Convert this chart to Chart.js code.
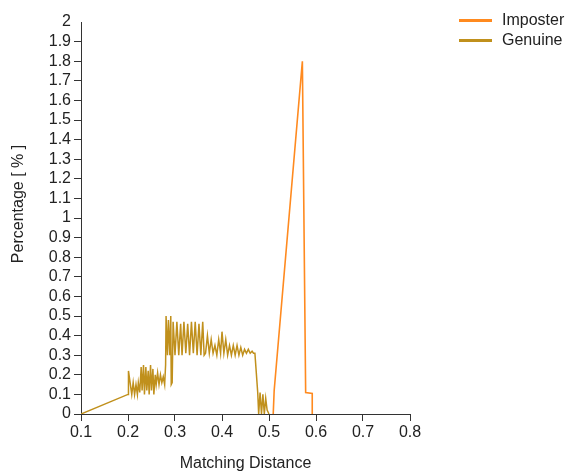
<!DOCTYPE html>
<html>
<head>
<meta charset="utf-8">
<script src="https://cdn.jsdelivr.net/npm/chart.js@4/dist/chart.umd.min.js"></script>
<style>
    body { margin: 0; background: #fff; }
    #wrap { position: relative; width: 569px; height: 472px; }
    .legend { position: absolute; left: 459px; font: 16px "Liberation Sans", Arial, sans-serif; color: #222; }
    .legend div { position: relative; height: 20px; line-height: 20px; padding-left: 43px; }
    .legend span { position: absolute; left: 0; top: 9px; width: 33px; height: 3px; }
</style>
</head>
<body>
<div id="wrap">
    <canvas id="chart" width="569" height="472"></canvas>
    <div class="legend" style="top: 10px;">
        <div><span style="background:#ff8a1f"></span>Imposter</div>
        <div><span style="background:#c0901c"></span>Genuine</div>
    </div>
</div>
<script>
// DATOS
const seriesNames = ['Imposter', 'Genuine'];

const imposterX = [0.509, 0.511, 0.571, 0.578, 0.592, 0.592];
const imposterY = [0, 0.12, 1.8, 0.11, 0.105, 0];

const genuineX = [
    0.1, 0.2, 0.201, 0.208, 0.211, 0.214, 0.217, 0.22, 0.222, 0.225,
    0.228, 0.23, 0.233, 0.235, 0.238, 0.24, 0.243, 0.245, 0.248, 0.25, 0.253, 0.255, 0.258, 0.26,
    0.263, 0.266, 0.269, 0.272, 0.275, 0.278, 0.28, 0.281, 0.284, 0.286, 0.289, 0.291, 0.292, 0.294, 0.296,
    0.3, 0.304, 0.308, 0.312, 0.315, 0.319, 0.323, 0.327, 0.331, 0.335, 0.339, 0.343, 0.347, 0.351, 0.355, 0.359, 0.362, 0.365,
    0.369, 0.373, 0.377, 0.381, 0.385, 0.389, 0.393, 0.397, 0.4, 0.404, 0.408, 0.412,
    0.416, 0.42, 0.424, 0.428, 0.432, 0.436, 0.44, 0.444, 0.448, 0.452, 0.456, 0.46, 0.464, 0.467, 0.47,
    0.476, 0.478, 0.481, 0.484, 0.487, 0.49, 0.493, 0.496, 0.5
];
const genuineY = [
    0, 0.1, 0.22, 0.1, 0.16, 0.1, 0.15, 0.1, 0.16, 0.11,
    0.24, 0.12, 0.25, 0.1, 0.24, 0.12, 0.22, 0.1, 0.25, 0.12, 0.23, 0.1, 0.2, 0.15,
    0.21, 0.15, 0.2, 0.16, 0.19, 0.15, 0.25, 0.5, 0.3, 0.48, 0.3, 0.5, 0.15, 0.16, 0.47,
    0.3, 0.47, 0.3, 0.46, 0.3, 0.47, 0.31, 0.46, 0.3, 0.47, 0.31, 0.47, 0.3, 0.46, 0.3, 0.47, 0.3, 0.31,
    0.4, 0.31, 0.38, 0.31, 0.35, 0.3, 0.38, 0.31, 0.42, 0.31, 0.38, 0.3,
    0.35, 0.3, 0.35, 0.3, 0.35, 0.3, 0.34, 0.3, 0.33, 0.31, 0.33, 0.31, 0.32, 0.31, 0.31,
    0.11, 0, 0.11, 0, 0.1, 0, 0.08, 0.02, 0
];

const xTicks = [0.1, 0.2, 0.3, 0.4, 0.5, 0.6, 0.7, 0.8];
const yMin = 0, yMax = 2, yStep = 0.1;
const yTitle = 'Percentage [ % ]';

const FONT = '"Liberation Sans", Arial, sans-serif';
const TXT = '#222';
const AXIS = '#333';

function toPoints(xs, ys) {
    return xs.map((x, i) => ({ x: x, y: ys[i] }));
}

function fmt(v) {
    return String(Math.round(v * 10) / 10);
}

// titulo del eje Y, un poco por encima del centro como en el original
const yTitlePlugin = {
    id: 'yTitle',
    afterDraw(chart) {
        const ctx = chart.ctx;
        ctx.save();
        ctx.translate(19, 204);
        ctx.rotate(-Math.PI / 2);
        ctx.font = '16px ' + FONT;
        ctx.fillStyle = TXT;
        ctx.textAlign = 'center';
        ctx.textBaseline = 'middle';
        ctx.fillText(yTitle, 0, 0);
        ctx.restore();
    }
};

new Chart(document.getElementById('chart'), {
    type: 'scatter',
    data: {
        datasets: [{
            label: seriesNames[0],
            data: toPoints(imposterX, imposterY),
            showLine: true,
            borderColor: '#ff8a1f',
            borderWidth: 1.6,
            pointRadius: 0,
            tension: 0
        }, {
            label: seriesNames[1],
            data: toPoints(genuineX, genuineY),
            showLine: true,
            borderColor: '#c0901c',
            borderWidth: 1.5,
            pointRadius: 0,
            tension: 0
        }]
    },
    options: {
        responsive: false,
        devicePixelRatio: 1,
        animation: false,
        layout: { padding: { left: 0, top: 22, right: 159, bottom: 0 } },
        plugins: {
            legend: { display: false },
            tooltip: { enabled: false }
        },
        scales: {
            x: {
                type: 'linear',
                min: xTicks[0],
                max: xTicks[xTicks.length - 1],
                afterFit: s => { s.height = 58; },
                afterBuildTicks: s => { s.ticks = xTicks.map(v => ({ value: v })); },
                grid: { drawOnChartArea: false, drawTicks: true, tickLength: 7, color: AXIS },
                border: { display: true, color: AXIS, width: 1 },
                ticks: { padding: 2, color: TXT, font: { family: FONT, size: 16 }, callback: v => fmt(v), maxRotation: 0, autoSkip: false },
                title: { display: true, text: 'Matching Distance', color: TXT, font: { family: FONT, size: 16, lineHeight: 1.1 }, padding: { top: 0, bottom: 0 } }
            },
            y: {
                min: yMin,
                max: yMax,
                afterFit: s => { s.width = 81; },
                grid: {
                    drawOnChartArea: false, drawTicks: true, tickLength: 7,
                    color: AXIS,
                    tickColor: c => (c.tick && c.tick.value >= yMax - 1e-9 ? 'rgba(0,0,0,0)' : AXIS)
                },
                border: { display: true, color: AXIS, width: 1 },
                ticks: { stepSize: yStep, padding: 3, color: TXT, font: { family: FONT, size: 16 }, callback: v => fmt(v), autoSkip: false },
                title: { display: false }
            }
        }
    },
    plugins: [yTitlePlugin]
});
</script>
</body>
</html>
